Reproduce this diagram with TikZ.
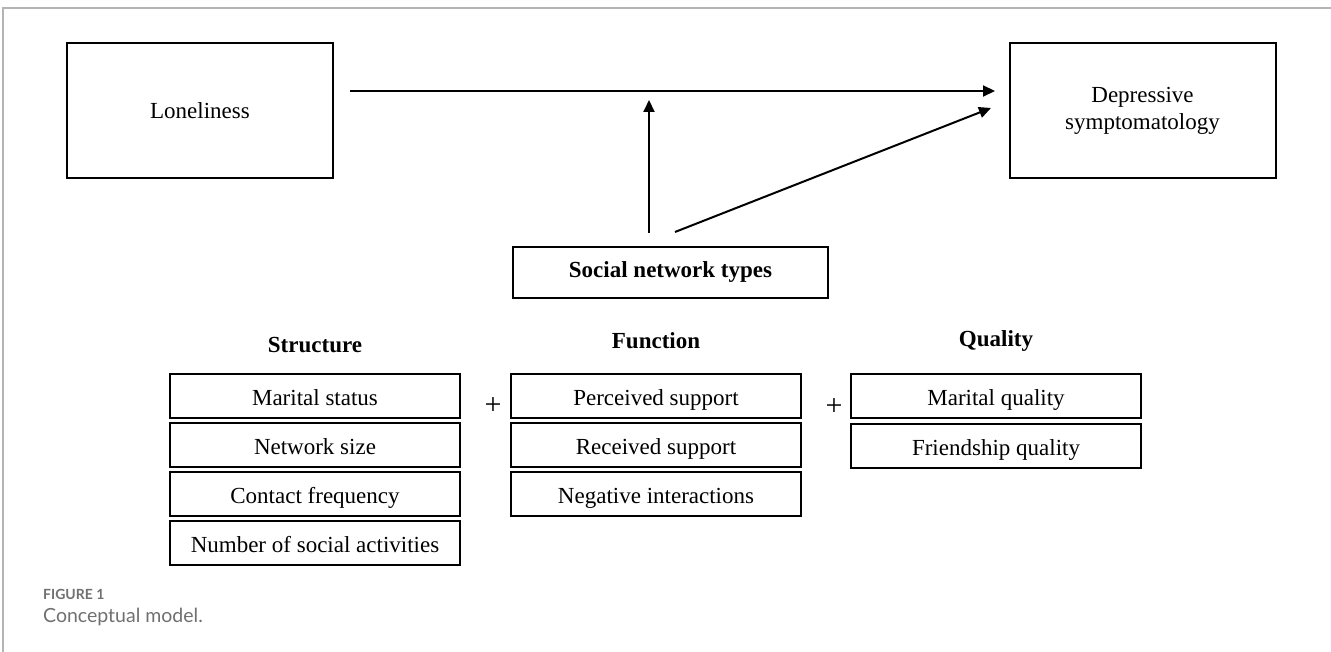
\documentclass[tikz,border=0pt]{standalone}
\usepackage{fontspec}
\setmainfont{Liberation Serif}
\newfontfamily\capfont{Lato}
\usetikzlibrary{arrows.meta}
\definecolor{framegray}{HTML}{B4B4B4}
\definecolor{capgray}{HTML}{707070}
\tikzset{
  box/.style={draw=black, line width=2pt, inner sep=0pt, align=center,
    font=\fontsize{23}{27}\selectfont},
  bigbox/.style={box, minimum width=266pt, minimum height=135pt},
  itembox/.style={box, minimum width=290pt, minimum height=44pt, text height=18pt, text depth=0pt},
  head/.style={font=\fontsize{23}{27}\selectfont\bfseries},
  plus/.style={font=\fontsize{30}{32}\selectfont},
  arr/.style={line width=2pt, -{Triangle[length=12pt,width=11pt]}},
}
\begin{document}
\begin{tikzpicture}[x=1pt,y=-1pt]
\useasboundingbox (0,0) rectangle (1331,652);
% frame
\draw[framegray, line width=2pt] (3,652) -- (3,8) -- (1331,8);
% main boxes
\node[bigbox] (lon) at (200,110.5) {Loneliness};
\node[bigbox] (dep) at (1142.5,110.5) {Depressive\\symptomatology};
\node[box, minimum width=315pt, minimum height=51pt, text height=16pt, text depth=5pt, font=\fontsize{23}{27}\selectfont\bfseries] (snt) at (670.5,272.5) {Social network types};
% coordinates for arrows
\coordinate (hs) at (350,91);
\coordinate (he) at (995,91);
\coordinate (vs) at (649,233);
\coordinate (ve) at (649,100);
\coordinate (ds) at (675,232);
\coordinate (de) at (991,108);
\draw[arr] (hs) -- (he);
\draw[arr] (vs) -- (ve);
\draw[arr] (ds) -- (de);
% headers
\node[head] (hstr) at (315,345) {Structure};
\node[head] (hfun) at (656,341) {Function};
\node[head] (hqua) at (996,341) {Quality};
% structure
\node[itembox] (s1) at (315,396) {Marital status};
\node[itembox] (s2) at (315,445) {Network size};
\node[itembox] (s3) at (315,494) {Contact frequency};
\node[itembox] (s4) at (315,543) {Number of social activities};
% function
\node[itembox] (f1) at (656,396) {Perceived support};
\node[itembox] (f2) at (656,445) {Received support};
\node[itembox] (f3) at (656,494) {Negative interactions};
% quality
\node[itembox] (q1) at (996,396) {Marital quality};
\node[itembox] (q2) at (996,446) {Friendship quality};
% plus signs
\node[plus] (p1) at (493,406) {+};
\node[plus] (p2) at (834,407) {+};
% caption
\node[anchor=base west, text=capgray, inner sep=0pt, font=\capfont\fontsize{14}{16}\selectfont\bfseries] (cap1) at (43,599) {FIGURE 1};
\node[anchor=base west, text=capgray, inner sep=0pt, font=\capfont\fontsize{19.5}{22}\selectfont] (cap2) at (43,622) {Conceptual model.};
\end{tikzpicture}
\end{document}
